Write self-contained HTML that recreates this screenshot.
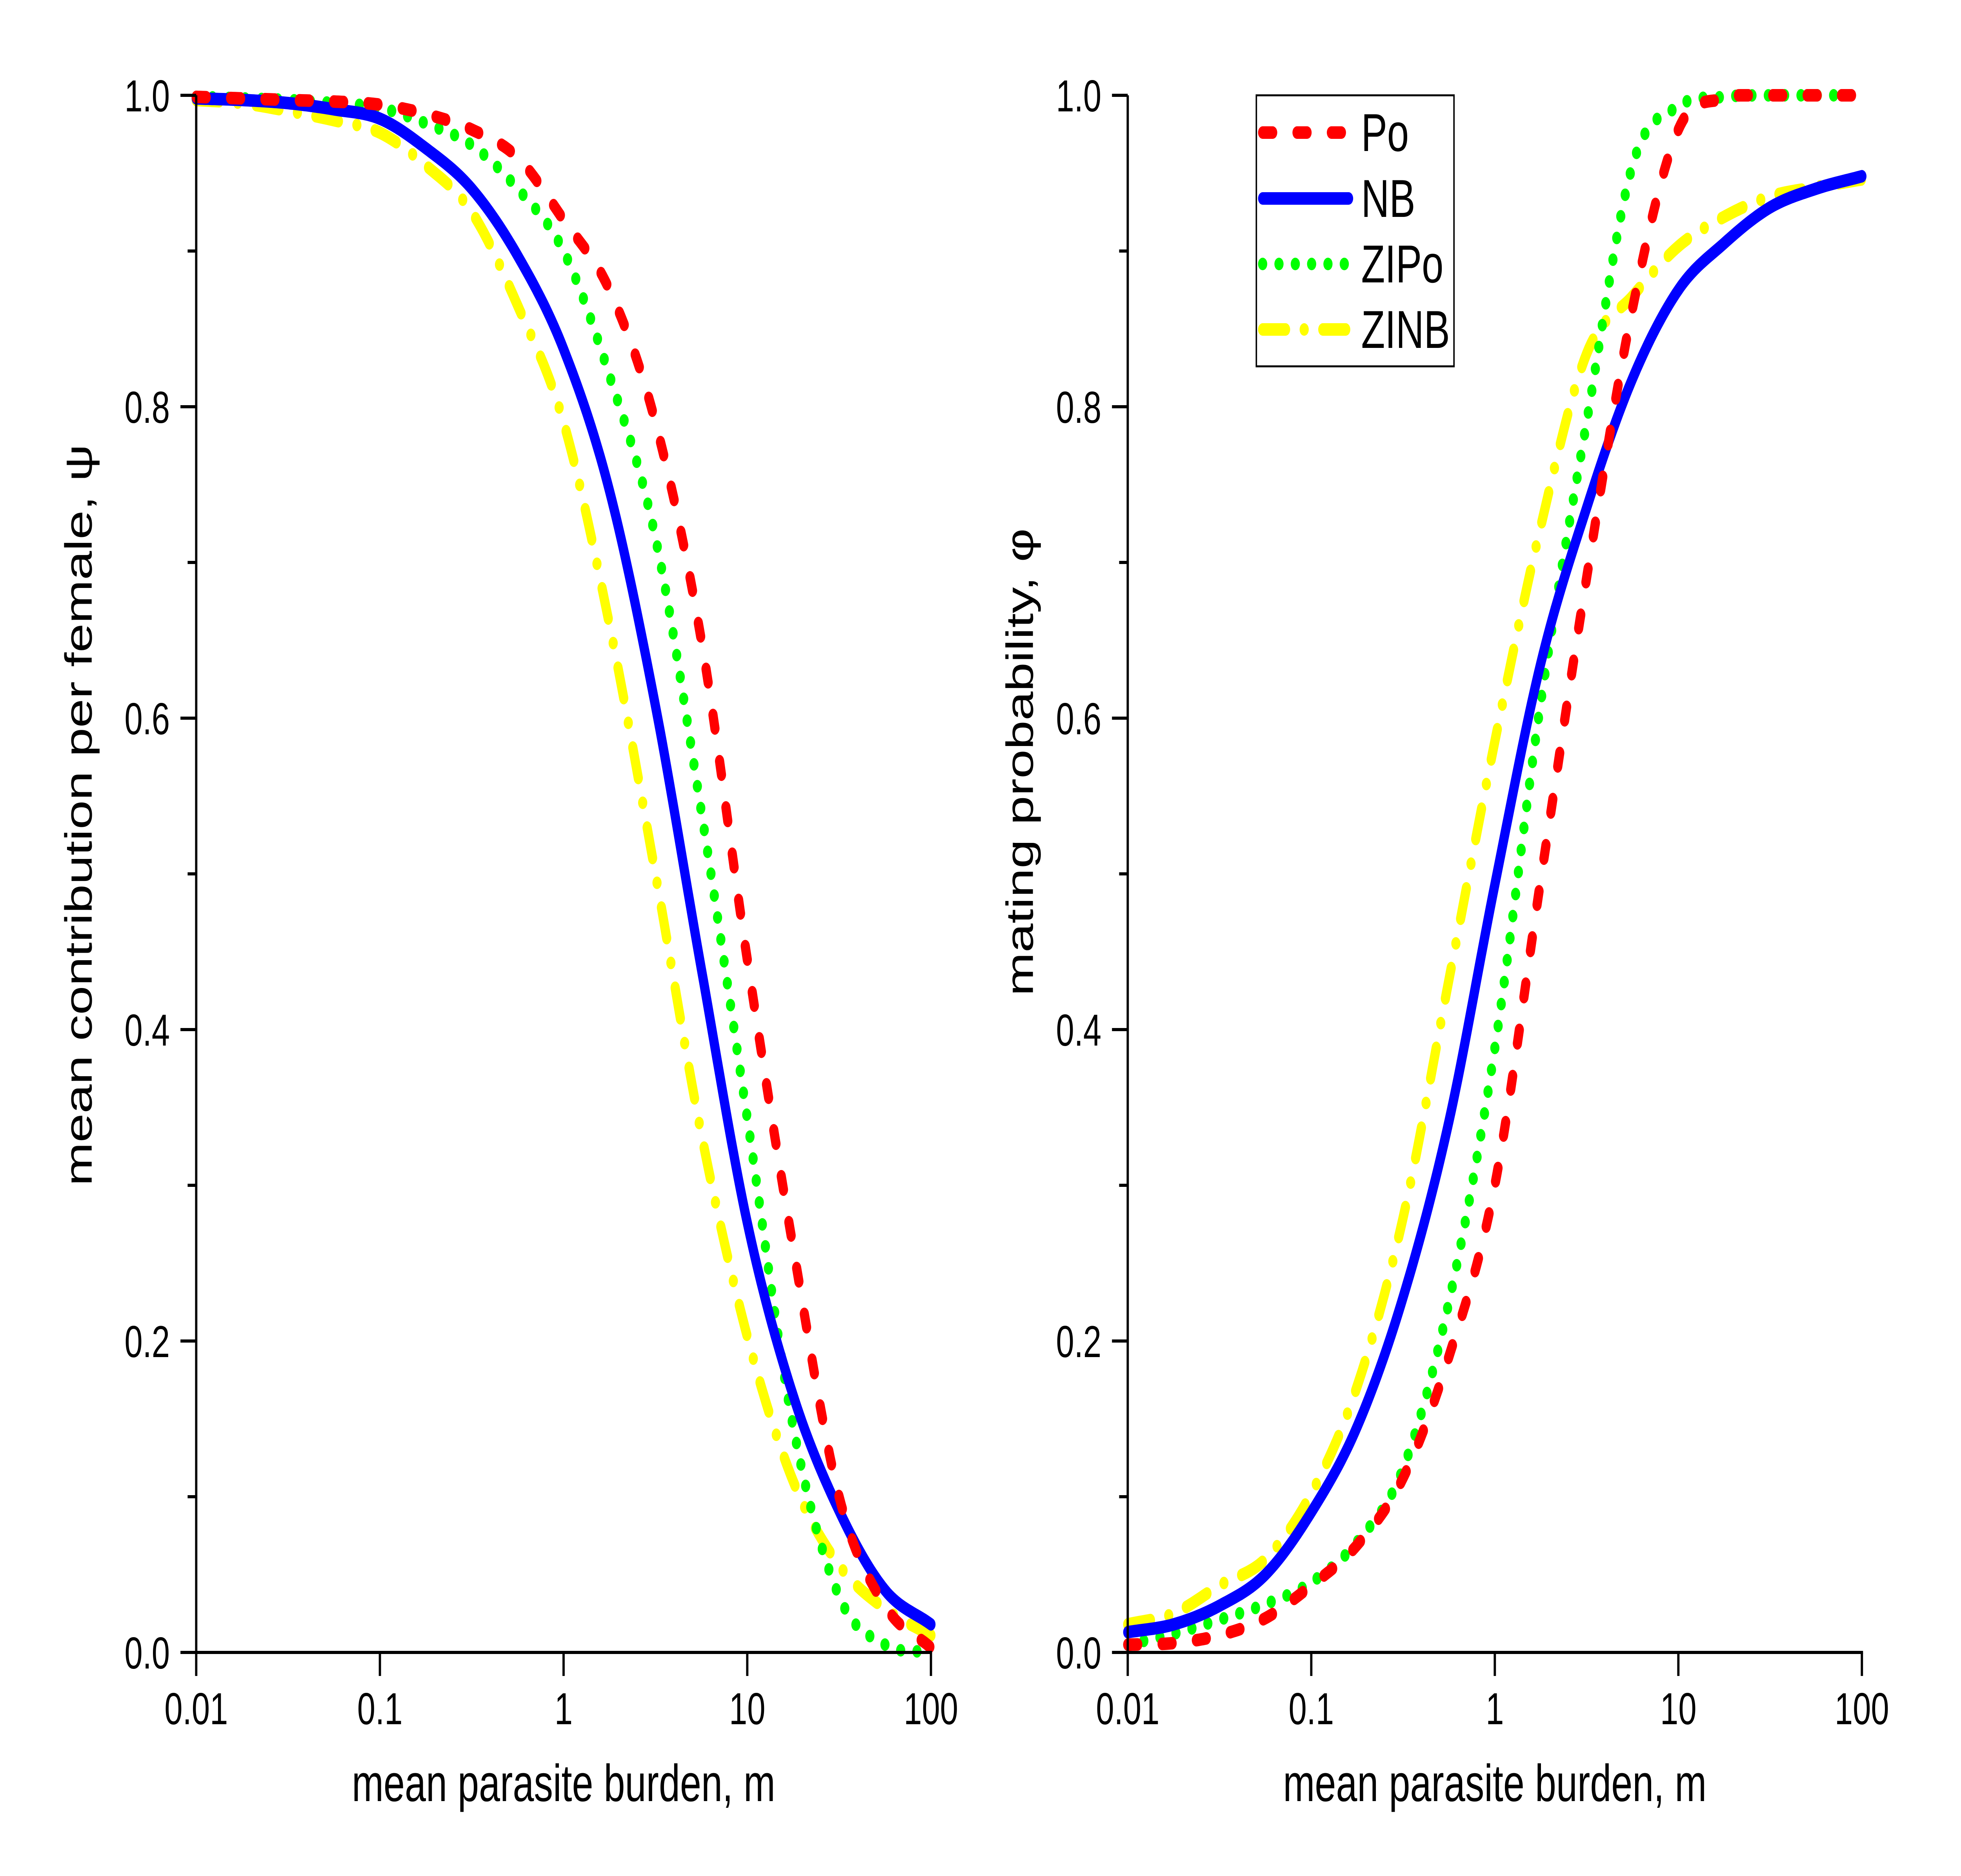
<!DOCTYPE html>
<html><head><meta charset="utf-8"><style>
html,body{margin:0;padding:0;background:#fff;overflow:hidden;width:100%;height:100%;}
svg{display:block;width:100vw;height:100vh;}
text{font-family:"Liberation Sans",Arial,sans-serif;fill:#000;}
</style></head><body>
<svg id="chart" viewBox="0 0 6846 4783" preserveAspectRatio="none" xmlns="http://www.w3.org/2000/svg">
<rect x="0" y="0" width="6846" height="4783" fill="#fff"/>
<g id="left-panel"></g>
<g id="right-panel"></g>
<g id="legend"></g>
</svg>
<script>
// log10(m) sample positions
const logM = [-2,-1.75,-1.5,-1.25,-1,-0.75,-0.5,-0.25,0,0.25,0.5,0.75,1,1.25,1.5,1.75,2];
// Left panel: mean contribution per female, psi
const psiPo   = [0.999,0.998,0.997,0.996,0.994,0.988,0.978,0.96,0.92,0.875,0.79,0.65,0.445,0.26,0.10,0.03,0.003];
const psiNB   = [0.998,0.997,0.995,0.991,0.985,0.966,0.94,0.897,0.837,0.746,0.608,0.439,0.276,0.165,0.091,0.04,0.018];
const psiZIPo = [0.999,0.998,0.997,0.995,0.992,0.982,0.968,0.94,0.90,0.82,0.716,0.54,0.343,0.145,0.036,0.005,0.0];
const psiZINB = [0.997,0.995,0.99,0.984,0.976,0.955,0.925,0.865,0.79,0.66,0.50,0.333,0.203,0.11,0.056,0.028,0.011];
// Right panel: mating probability, phi
const phiPo   = [0.005,0.006,0.011,0.022,0.043,0.069,0.112,0.19,0.30,0.496,0.69,0.863,0.978,0.998,1.0,1.0,1.0];
const phiNB   = [0.013,0.018,0.03,0.05,0.09,0.145,0.228,0.341,0.493,0.635,0.735,0.818,0.875,0.905,0.928,0.94,0.948];
const phiZIPo = [0.005,0.012,0.021,0.031,0.045,0.071,0.118,0.225,0.388,0.61,0.79,0.955,0.993,0.999,1.0,1.0,1.0];
const phiZINB = [0.018,0.025,0.043,0.06,0.102,0.171,0.279,0.432,0.585,0.723,0.834,0.871,0.903,0.922,0.935,0.941,0.946];
// Ticks and labels
const xTickLogs = [-2,-1,0,1,2];
const xTickLabels = ["0.01","0.1","1","10","100"];
const yMajor = [0,0.2,0.4,0.6,0.8,1.0];
const yMajorLabels = ["0.0","0.2","0.4","0.6","0.8","1.0"];
const yMinor = [0.1,0.3,0.5,0.7,0.9];
const seriesNames = ["Po","NB","ZIPo","ZINB"];

const NS = "http://www.w3.org/2000/svg";
const TOP = 243, BOT = 4213;
const styles = {
  Po:   {color:"#ff0000", dash:"35 85"},
  NB:   {color:"#0000ff", dash:""},
  ZIPo: {color:"#00ff00", dash:"0 57"},
  ZINB: {color:"#ffff00", dash:"80 65 0 65"}
};
function mk(tag, attrs, parent){
  const e = document.createElementNS(NS, tag);
  for (const k in attrs) e.setAttribute(k, attrs[k]);
  parent.appendChild(e);
  return e;
}
function yScale(v){ return BOT - v*(BOT-TOP); }
function spline(xs, ys, n){
  const k = xs.length, m = new Array(k);
  m[0]=(ys[1]-ys[0])/(xs[1]-xs[0]);
  m[k-1]=(ys[k-1]-ys[k-2])/(xs[k-1]-xs[k-2]);
  for (let i=1;i<k-1;i++) m[i]=(ys[i+1]-ys[i-1])/(xs[i+1]-xs[i-1]);
  const out=[];
  for (let i=0;i<k-1;i++){
    const h=xs[i+1]-xs[i];
    for (let j=0;j<n;j++){
      const t=j/n, t2=t*t, t3=t2*t;
      const y=(2*t3-3*t2+1)*ys[i]+(t3-2*t2+t)*h*m[i]+(-2*t3+3*t2)*ys[i+1]+(t3-t2)*h*m[i+1];
      out.push([xs[i]+t*h, y]);
    }
  }
  out.push([xs[k-1], ys[k-1]]);
  return out;
}
function drawPanel(g, x0, x1, series, yTitle, yTitleX, prefix){
  const xScale = lg => x0 + (lg+2)/4*(x1-x0);
  const order = ["ZINB","ZIPo","NB","Po"];
  order.forEach(name=>{
    const vals = series[name];
    const pts = spline(logM, vals, 20);
    const d = pts.map((p,i)=>(i?"L":"M")+xScale(p[0]).toFixed(1)+","+yScale(Math.max(0,Math.min(1,p[1]))).toFixed(1)).join("");
    const p = mk("path",{d:d,fill:"none",stroke:styles[name].color,"stroke-width":32,"stroke-linecap":"round","stroke-linejoin":"round"},g);
    if (styles[name].dash) p.setAttribute("stroke-dasharray", styles[name].dash);
    
    
  });
  const ax = mk("line",{x1:x0,y1:TOP,x2:x0,y2:BOT+4,stroke:"#000","stroke-width":8},g);
  
  
  const axx = mk("line",{x1:x0-4,y1:BOT,x2:x1+4,y2:BOT,stroke:"#000","stroke-width":8},g);
  
  
  yMajor.forEach((v,i)=>{
    const y=yScale(v);
    const t=mk("line",{x1:x0-55,y1:y,x2:x0,y2:y,stroke:"#000","stroke-width":8},g);
    
    
    const lb=mk("text",{x:x0-92,y:y+41,"font-size":114,"text-anchor":"end"},g);
    lb.textContent=yMajorLabels[i];
    
    
  });
  yMinor.forEach(v=>{
    const y=yScale(v);
    const t=mk("line",{x1:x0-30,y1:y,x2:x0,y2:y,stroke:"#000","stroke-width":8},g);
    
    
  });
  xTickLogs.forEach((lg,i)=>{
    const x=xScale(lg);
    const t=mk("line",{x1:x,y1:BOT,x2:x,y2:BOT+60,stroke:"#000","stroke-width":8},g);
    
    
    const lb=mk("text",{x:x,y:4396,"font-size":114,"text-anchor":"middle"},g);
    lb.textContent=xTickLabels[i];
    
    
  });
  const xt=mk("text",{x:(x0+x1)/2,y:4592,"font-size":133,"text-anchor":"middle"},g);
  xt.textContent="mean parasite burden, m";
  
  
  const cy = (TOP+BOT)/2 - (prefix==="left"?150:285);
  const yt=mk("text",{x:0,y:0,"font-size":133,"text-anchor":"middle",transform:"translate("+(yTitleX+46)+","+cy+") rotate(-90)"},g);
  yt.textContent=yTitle;
  
  
}
drawPanel(document.getElementById("left-panel"),685,3250,{Po:psiPo,NB:psiNB,ZIPo:psiZIPo,ZINB:psiZINB},"mean contribution per female, \u03C8",274,"left");
drawPanel(document.getElementById("right-panel"),3937,6500,{Po:phiPo,NB:phiNB,ZIPo:phiZIPo,ZINB:phiZINB},"mating probability, \u03C6",3560,"right");

(function(){
  const g=document.getElementById("legend");
  const box=mk("rect",{x:4386,y:243,width:690,height:691,fill:"#fff",stroke:"#000","stroke-width":5},g);
  
  
  const ys=[338,506,673,840];
  seriesNames.forEach((name,i)=>{
    const ln=mk("line",{x1:4408,y1:ys[i],x2:4708,y2:ys[i],stroke:styles[name].color,"stroke-width":32,"stroke-linecap":"round"},g);
    if (styles[name].dash) ln.setAttribute("stroke-dasharray", styles[name].dash);
    
    
    const t=mk("text",{x:4752,y:ys[i]+47,"font-size":136},g);
    t.textContent=name;
    
    
  });
})();
</script>
</body></html>
